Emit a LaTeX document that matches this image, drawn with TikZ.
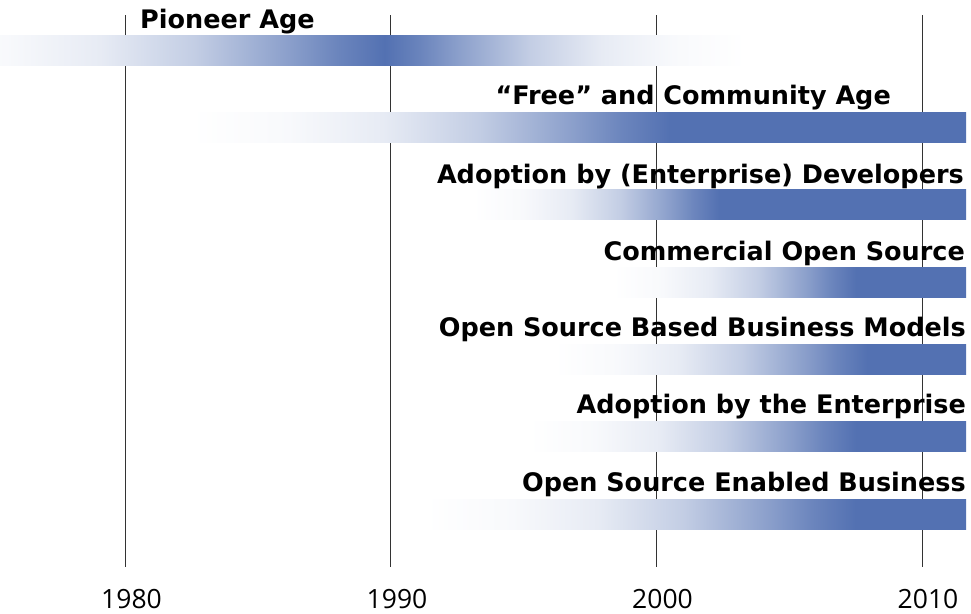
\documentclass[tikz,border=0pt]{standalone}
\usepackage{fontspec}
\setmainfont{DejaVu Sans}
\newfontfamily\yearfont{Open Sans}
\definecolor{barblue}{RGB}{83,113,178}
\newcommand\declbarshade[7]{%
  \pgfdeclarehorizontalshading{#1}{100bp}{color(0bp)=(white); color(25bp)=(white);
    color(#2bp)=(barblue!4); color(#3bp)=(barblue!14); color(#4bp)=(barblue!35);
    color(#5bp)=(barblue!68); color(#6bp)=(barblue!86); color(#7bp)=(barblue);
    color(75bp)=(barblue); color(100bp)=(barblue)}}
\declbarshade{shfree}{31.18}{37.36}{43.54}{49.72}{52.81}{55.9}
\declbarshade{shadev}{29.99}{34.98}{39.97}{44.96}{47.46}{49.95}
\declbarshade{shcos}{31.88}{38.76}{45.64}{52.52}{55.96}{59.4}
\declbarshade{shosbm}{32.6}{40.2}{47.8}{55.4}{59.2}{63.0}
\declbarshade{shate}{32.48}{39.96}{47.44}{54.92}{58.66}{62.4}
\declbarshade{shoseb}{32.96}{40.92}{48.88}{56.84}{60.82}{64.8}
\pgfdeclarehorizontalshading{shpioneer}{100bp}{color(0bp)=(white); color(25bp)=(white);
  color(30.68bp)=(barblue!4); color(36.36bp)=(barblue!14); color(42.04bp)=(barblue!35);
  color(47.72bp)=(barblue!68); color(50.56bp)=(barblue!86); color(53.4bp)=(barblue);
  color(55.56bp)=(barblue!86); color(57.72bp)=(barblue!68); color(62.04bp)=(barblue!35);
  color(66.36bp)=(barblue!14); color(70.68bp)=(barblue!4); color(75bp)=(white); color(100bp)=(white)}
\begin{document}
\begin{tikzpicture}[x=1pt,y=-1pt,
  title/.style={font=\bfseries\fontsize{25.5}{30}\selectfont, inner sep=0pt, anchor=base east},
  year/.style={font=\yearfont\fontsize{26.5}{30}\selectfont, inner sep=0pt, anchor=base},
  gridline/.style={draw=black!80, line width=1pt}]
\useasboundingbox (0,0) rectangle (971,613);
\clip (0,0) rectangle (971,613);
% year labels
\node[year] (y1980) at (131.5,608) {1980};
\node[year] (y1990) at (397,608) {1990};
\node[year] (y2000) at (662.5,608) {2000};
\node[year] (y2010) at (928,608) {2010};
% grid lines
\coordinate (t1980) at (125,15);  \coordinate (b1980) at (125,567);
\coordinate (t1990) at (390,15);  \coordinate (b1990) at (390,567);
\coordinate (t2000) at (656,15);  \coordinate (b2000) at (656,567);
\coordinate (t2010) at (922,15);  \coordinate (b2010) at (922,567);
\draw[gridline] (t1980) -- (b1980);
\draw[gridline] (t1990) -- (b1990);
\draw[gridline] (t2000) -- (b2000);
\draw[gridline] (t2010) -- (b2010);
% bars
\shade[shading=shpioneer] (-90,35) rectangle (746,65);
\shade[shading=shfree] (191,112) rectangle (966,142);
\shade[shading=shadev] (473,189) rectangle (966,219);
\shade[shading=shcos] (613,267) rectangle (966,297);
\shade[shading=shosbm] (554,344) rectangle (966,374);
\shade[shading=shate] (529,421) rectangle (966,451);
\shade[shading=shoseb] (425,499) rectangle (966,529);
% titles
\node[title, anchor=base west] (pioneer) at (140,28) {Pioneer Age};
\node[title] (free) at (891,104) {“Free” and Community Age};
\node[title] (adev) at (964,183) {Adoption by (Enterprise) Developers};
\node[title] (cos) at (965,260) {Commercial Open Source};
\node[title] (osbm) at (966,336) {Open Source Based Business Models};
\node[title] (ate) at (966,413) {Adoption by the Enterprise};
\node[title] (oseb) at (966,491) {Open Source Enabled Business};
\end{tikzpicture}
\end{document}
